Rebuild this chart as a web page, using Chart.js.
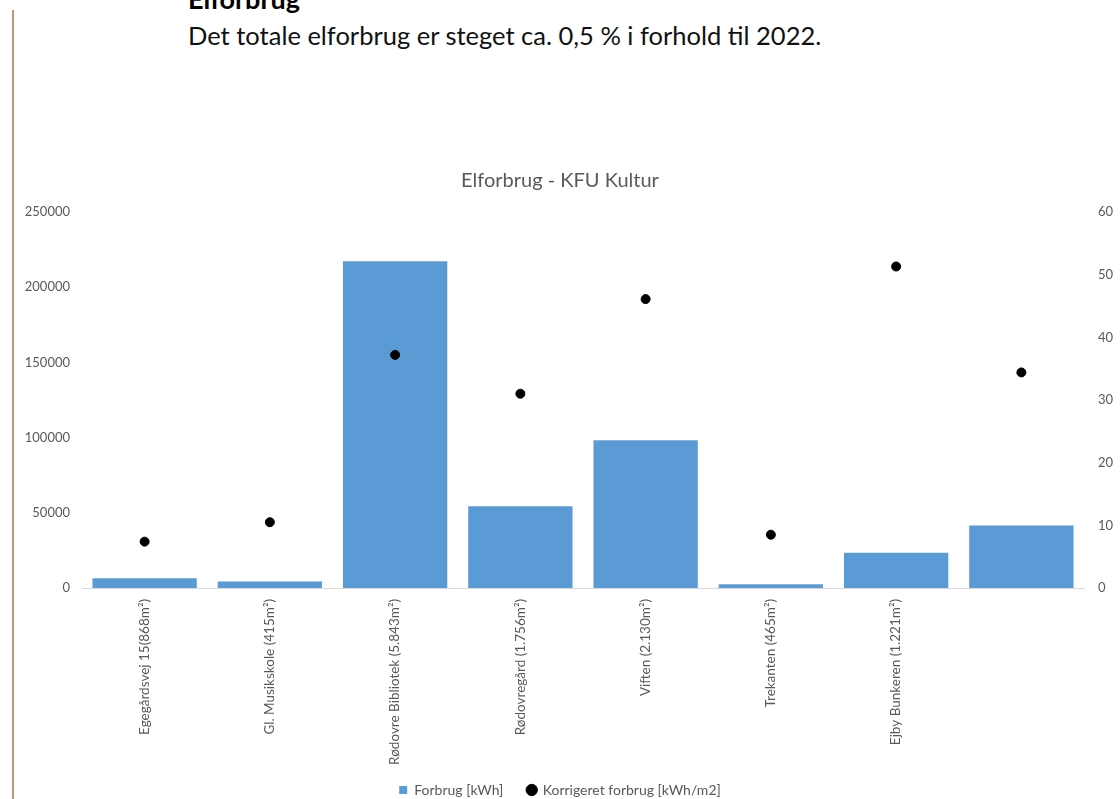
<!DOCTYPE html>
<html>
<head>
<meta charset="utf-8">
<script src="https://cdn.jsdelivr.net/npm/chart.js@4"></script>
<style>
  html, body { margin: 0; padding: 0; background: #fff; }
  body { width: 1120px; height: 799px; position: relative; overflow: hidden; font-family: Lato, "Open Sans", sans-serif; }
  #rule { position: absolute; left: 12px; top: 10px; width: 2px; height: 789px; background: #b9977c; }
  #head { position: absolute; left: 188px; top: -17px; font-size: 27px; font-weight: bold; color: #000; line-height: 32px; }
  #sub { position: absolute; left: 188px; top: 20px; font-size: 25.5px; color: #111; line-height: 30px; }
  #wrap { position: absolute; left: 0; top: 150px; width: 1120px; height: 657px; }
</style>
</head>
<body>
<div id="rule"></div>
<div id="head">Elforbrug</div>
<div id="sub">Det totale elforbrug er steget ca. 0,5 % i forhold til 2022.</div>
<div id="wrap"><canvas id="myChart"></canvas></div>
<script>
var lbls_building = ['Egegårdsvej 15(868m²)', 'Gl. Musikskole (415m²)', 'Rødovre Bibliotek (5.843m²)',
  'Rødovregård (1.756m²)', 'Viften (2.130m²)', 'Trekanten (465m²)', 'Ejby Bunkeren (1.221m²)', ''];
var data_kwh = [6400, 4250, 217200, 54400, 98300, 2500, 23500, 41600];
var data_kwh_m2 = [7.4, 10.5, 37.2, 31.0, 46.1, 8.5, 51.3, 34.4];

var grey = '#595959';
var ctx = document.getElementById('myChart').getContext('2d');
Chart.defaults.font.family = 'Lato, "Open Sans", sans-serif';
Chart.defaults.color = grey;

// plain numbers, no thousands separator
function plain(v) { return String(v); }

// default legend items, with a wider gap after the first one
function legendItems(chart) {
  var items = Chart.defaults.plugins.legend.labels.generateLabels(chart);
  items.sort(function (a, b) { return b.datasetIndex - a.datasetIndex; });
  items[0].text = items[0].text + '    ';
  return items;
}

var myChart = new Chart(ctx, {
  data: {
    labels: lbls_building,
    datasets: [{
      type: 'line',
      label: 'Korrigeret forbrug [kWh/m2]',
      data: data_kwh_m2,
      yAxisID: 'y2',
      showLine: false,
      pointStyle: 'circle',
      pointRadius: 4.5,
      pointHoverRadius: 4.5,
      backgroundColor: '#000',
      borderColor: '#000',
      order: 1
    }, {
      type: 'bar',
      label: 'Forbrug [kWh]',
      data: data_kwh,
      yAxisID: 'y',
      backgroundColor: '#5b9bd5',
      pointStyle: 'rect',
      barPercentage: 1,
      categoryPercentage: 0.833,
      order: 2
    }]
  },
  options: {
    responsive: true,
    maintainAspectRatio: false,
    animation: false,
    layout: { padding: 0 },
    plugins: {
      title: {
        display: true,
        text: 'Elforbrug - KFU Kultur',
        color: grey,
        font: { size: 20, weight: 'normal' },
        padding: { top: 19, bottom: 19 }
      },
      legend: {
        position: 'bottom',
        labels: {
          usePointStyle: true,
          boxWidth: 8,
          boxHeight: 8,
          padding: 10,
          color: grey,
          font: { size: 14 },
          generateLabels: legendItems
        }
      },
      tooltip: { enabled: false }
    },
    scales: {
      x: {
        grid: { display: false, drawTicks: false },
        border: { display: true, color: '#d9d9d9', width: 1 },
        ticks: { maxRotation: 90, minRotation: 90, autoSkip: false, padding: 11, font: { size: 13.5 } },
        afterFit: function (s) { s.height = 185; }
      },
      y: {
        position: 'left',
        min: 0, max: 250000,
        grid: { display: false, drawTicks: false },
        border: { display: false },
        ticks: { stepSize: 50000, padding: 12, font: { size: 13 }, callback: plain },
        afterFit: function (s) { s.width = 82; }
      },
      y2: {
        position: 'right',
        min: 0, max: 60,
        grid: { display: false, drawTicks: false },
        border: { display: false },
        ticks: { stepSize: 10, padding: 14, font: { size: 13 }, callback: plain },
        afterFit: function (s) { s.width = 36; }
      }
    }
  }
});
</script>
</body>
</html>
